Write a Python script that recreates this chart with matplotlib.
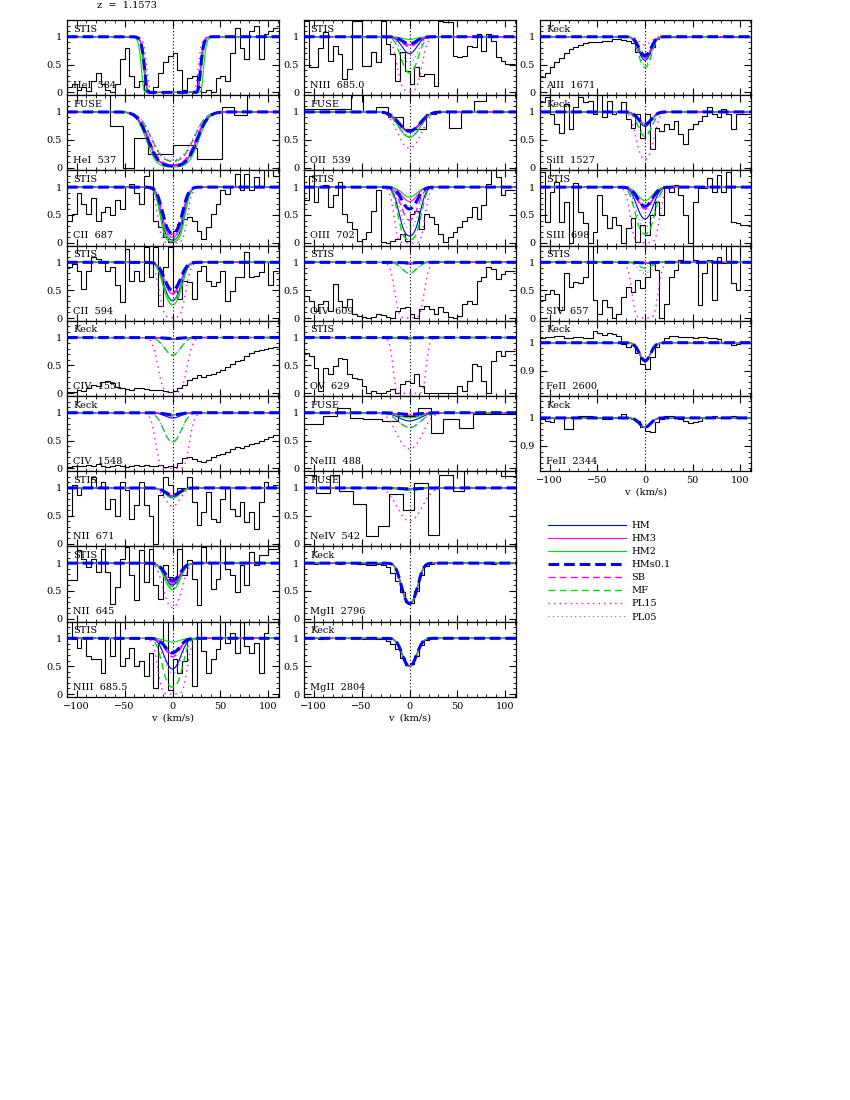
import numpy as np
import matplotlib
matplotlib.use('Agg')
import matplotlib.pyplot as plt
from matplotlib.ticker import MultipleLocator, FuncFormatter

# ---- observed spectra (normalised flux per velocity bin, -110..110 km/s) ----
hei584 = [0.10, 0.15, 0.05, 0.10, 0.02, 0.20, 0.35, 0.15, 0.05, 0.00, 0.15, 0.60, 0.80, 0.30, 0.10,
          0.20, 0.05, 0.00, 0.10, 0.35, 0.55, 0.65, 0.70, 0.40, 0.05, 0.25, 0.30, 0.10, 0.00, 0.05,
          0.00, 0.25, 0.30, 0.20, 0.70, 1.15, 0.80, 0.60, 1.10, 1.20, 0.60, 1.05, 1.10, 1.15]
hei537_edges = [-110, -65, -52, -40, -26, 0, 23, 26, 52, 64, 78, 111]
hei537 = [1.40, 0.75, 0.00, 0.54, 0.24, 0.40, 0.36, 0.16, 1.09, 0.95, 1.40]
cii687 = [0.40, 0.52, 0.90, 0.70, 0.52, 0.80, 0.40, 0.55, 0.64, 0.50, 0.76, 0.60, 1.00, 1.06, 0.90,
          0.70, 1.20, 1.35, 0.40, 0.28, 0.10, 0.01, 0.22, 0.34, 0.43, 0.46, 0.40, 0.22, 0.07, 0.28,
          0.52, 0.70, 0.94, 0.88, 1.00, 1.24, 0.94, 1.24, 0.94, 1.18, 1.00, 1.35, 1.35, 1.20]
cii594 = [0.91, 0.97, 0.85, 0.52, 0.85, 1.09, 1.06, 1.00, 0.85, 0.91, 0.60, 0.28, 1.24, 0.67, 0.85,
          0.67, 1.27, 0.73, 1.27, 0.22, 0.91, 1.27, 0.49, 0.34, 0.67, 0.64, 0.34, 0.85, 0.94, 0.67,
          0.58, 0.64, 0.85, 0.31, 0.49, 0.73, 0.73, 1.18, 0.73, 0.76, 0.82, 1.00, 0.60, 0.85]
civ1551 = [0.02, 0.03, 0.05, 0.04, 0.10, 0.15, 0.13, 0.20, 0.22, 0.18, 0.12, 0.10, 0.08, 0.06, 0.09,
           0.10, 0.07, 0.05, 0.06, 0.05, 0.04, 0.02, 0.04, 0.10, 0.15, 0.24, 0.28, 0.32, 0.30, 0.33,
           0.35, 0.38, 0.42, 0.47, 0.52, 0.57, 0.60, 0.66, 0.72, 0.75, 0.78, 0.80, 0.82, 0.83]
civ1548 = [0.03, 0.05, 0.04, 0.05, 0.06, 0.04, 0.08, 0.05, 0.02, 0.04, 0.07, 0.04, 0.03, 0.05, 0.06,
           0.04, 0.07, 0.05, 0.04, 0.06, 0.03, 0.05, 0.02, 0.10, 0.18, 0.20, 0.17, 0.14, 0.12, 0.15,
           0.20, 0.24, 0.26, 0.30, 0.35, 0.38, 0.36, 0.40, 0.44, 0.46, 0.50, 0.52, 0.56, 0.60]
nii671 = [0.50, 1.05, 0.87, 1.00, 1.00, 1.20, 1.00, 1.10, 0.63, 0.80, 0.50, 1.10, 0.96, 0.45, 0.69,
          1.10, 0.69, 0.50, 0.00, 0.87, 1.20, 1.05, 0.87, 1.00, 1.00, 1.20, 0.75, 0.33, 0.57, 0.93,
          0.45, 0.39, 0.80, 1.00, 0.63, 0.50, 0.75, 0.39, 0.57, 0.27, 0.75, 1.10, 1.00, 1.05]
nii645 = [0.69, 0.69, 1.23, 1.08, 0.93, 1.08, 0.84, 1.26, 0.84, 0.27, 0.57, 1.08, 1.29, 0.78, 0.33,
          1.23, 0.66, 1.26, 0.60, 0.36, 0.96, 0.75, 0.66, 1.26, 0.78, 1.05, 0.72, 0.24, 1.29, 1.02,
          0.54, 0.72, 1.32, 0.90, 0.78, 0.48, 0.96, 0.60, 1.20, 0.96, 1.14, 1.14, 1.26, 1.26]
niii6855 = [1.30, 0.98, 0.83, 1.00, 0.68, 0.62, 0.62, 0.38, 1.00, 0.68, 1.30, 0.50, 0.65, 0.83, 0.50,
            0.60, 0.32, 0.74, 0.10, 0.92, 1.30, 0.08, 0.62, 0.38, 0.60, 0.98, 0.14, 1.30, 0.77, 0.38,
            0.62, 0.80, 1.30, 0.92, 1.10, 0.74, 1.30, 0.86, 0.74, 0.92, 0.38, 1.10, 1.30, 1.30]
niii6850 = [1.29, 0.45, 0.45, 0.80, 1.08, 0.57, 0.84, 0.69, 0.24, 0.42, 1.29, 1.29, 0.48, 0.48, 0.72,
            0.54, 1.29, 0.87, 0.69, 0.21, 0.72, 0.39, 0.15, 0.45, 0.30, 0.33, 0.33, 0.12, 1.29, 1.26,
            1.26, 0.66, 0.63, 0.66, 0.84, 0.81, 1.05, 0.75, 1.05, 0.93, 0.63, 0.57, 0.51, 0.51]
oii539_edges = [-110, -61, -48, -35, -22, -7, 3, 17, 28, 41, 54, 67, 80, 93, 111]
oii539 = [1.05, 1.40, 1.02, 1.09, 0.90, 0.69, 0.70, 0.96, 1.00, 0.72, 1.02, 1.19, 1.30, 1.32]
oiii702 = [0.76, 1.20, 0.73, 1.00, 1.03, 0.64, 0.85, 1.09, 0.52, 0.37, 0.25, 0.04, 0.07, 0.19, 0.58,
           0.94, 0.01, 0.00, 0.04, 0.07, 0.16, 0.04, 0.52, 0.58, 0.25, 0.52, 0.46, 0.34, 0.16, 0.01,
           0.10, 0.19, 0.28, 0.40, 0.46, 0.64, 0.43, 0.67, 1.06, 1.30, 1.18, 0.85, 0.94, 0.94]
oiv609 = [0.40, 0.31, 0.13, 0.25, 0.31, 0.13, 0.61, 0.31, 0.19, 0.34, 0.07, 0.04, 0.01, 0.00, 0.01,
          0.07, 0.05, 0.01, 0.00, 0.13, 0.18, 0.19, 0.07, 0.00, 0.16, 0.22, 0.16, 0.07, 0.19, 0.10,
          0.01, 0.00, 0.04, 0.25, 0.31, 0.25, 0.67, 0.73, 0.91, 0.88, 0.70, 0.79, 0.85, 0.85]
ov629 = [0.73, 0.67, 0.46, 0.04, 0.46, 0.34, 0.49, 0.64, 0.61, 0.34, 0.28, 0.25, 0.13, 0.00, 0.04,
         0.00, 0.00, 0.04, 0.07, 0.00, 0.16, 0.22, 0.19, 0.34, 0.13, 0.00, 0.00, 0.00, 0.00, 0.00,
         0.00, 0.00, 0.13, 0.04, 0.22, 0.52, 0.49, 0.22, 0.00, 0.58, 0.76, 0.67, 0.76, 0.76]
neiii488_edges = [-110, -90, -76, -62, -48, -29, -12, 9, 22, 35, 52, 66, 111]
neiii488 = [0.79, 0.94, 1.08, 0.91, 0.88, 0.86, 0.94, 1.08, 0.64, 0.88, 0.72, 0.98]
neiv542_edges = [-110, -97, -83, -73, -59, -45, -33, -21, -7, 5, 19, 31, 45, 57, 95, 111]
neiv542 = [1.24, 0.90, 1.24, 0.94, 0.71, 0.13, 0.32, 0.89, 0.61, 1.09, 0.15, 1.24, 0.95, 1.40, 1.22]
mgii2796 = [1.00, 1.00, 0.99, 1.00, 1.00, 1.01, 1.00, 0.99, 1.00, 1.00, 1.00, 0.99, 0.98, 0.97, 0.97,
            0.98, 0.97, 0.93, 0.83, 0.68, 0.48, 0.31, 0.29, 0.50, 0.78, 0.94, 0.99, 1.00, 1.00, 1.00,
            1.01, 1.00, 1.00, 1.00, 1.01, 1.00, 1.00, 1.00, 1.00, 0.99, 1.00, 1.00, 1.00, 1.00]
mgii2804 = [1.00, 1.00, 1.00, 0.99, 1.00, 1.00, 1.00, 1.01, 1.00, 1.00, 1.00, 1.00, 0.99, 1.00, 1.00,
            0.99, 0.99, 0.96, 0.90, 0.80, 0.65, 0.52, 0.53, 0.68, 0.88, 0.97, 1.00, 1.00, 1.01, 1.00,
            1.00, 1.00, 1.00, 1.01, 1.00, 1.00, 1.00, 1.00, 1.00, 1.00, 1.01, 1.00, 1.00, 1.00]
alii1671 = [0.28, 0.35, 0.45, 0.55, 0.62, 0.70, 0.78, 0.82, 0.86, 0.88, 0.90, 0.90, 0.91, 0.92, 0.93,
            0.95, 0.95, 0.94, 0.93, 0.88, 0.72, 0.67, 0.70, 0.82, 0.95, 0.99, 1.00, 1.00, 0.99, 1.01,
            1.00, 1.02, 1.01, 1.00, 1.01, 1.02, 1.01, 1.00, 1.01, 0.99, 1.00, 1.00, 1.01, 0.99]
sii1527 = [1.17, 1.26, 0.96, 0.78, 0.63, 1.14, 0.69, 1.08, 1.26, 1.17, 1.19, 0.96, 1.32, 0.90, 1.20,
           0.96, 1.02, 1.17, 0.87, 0.72, 0.96, 0.54, 0.96, 0.33, 0.72, 0.66, 0.78, 0.69, 0.84, 0.60,
           0.42, 0.69, 0.78, 0.84, 0.93, 1.08, 0.96, 0.90, 1.05, 0.96, 0.69, 0.96, 0.96, 0.96]
siii698 = [1.28, 0.38, 0.92, 1.10, 0.38, 0.74, 0.00, 1.07, 0.56, 0.35, 0.00, 0.20, 0.86, 0.50, 0.26,
           0.47, 0.32, 0.00, 0.26, 0.44, 0.02, 0.32, 0.14, 0.50, 0.74, 0.50, 0.98, 0.92, 1.04, 0.86,
           0.50, 0.00, 0.74, 0.98, 0.98, 1.16, 0.92, 1.22, 0.92, 1.28, 0.38, 0.35, 0.32, 0.32]
siv657 = [0.32, 0.44, 0.50, 0.44, 0.14, 0.80, 0.56, 0.65, 0.62, 0.74, 1.30, 0.32, 0.08, 0.32, 0.20,
          0.00, 0.08, 0.38, 0.56, 0.47, 0.68, 0.53, 0.74, 0.98, 0.86, 0.00, 0.26, 0.74, 0.86, 1.04,
          1.30, 1.30, 1.04, 0.23, 0.80, 1.04, 0.32, 1.10, 0.98, 1.30, 0.62, 0.50, 1.30, 1.30]
feii2600 = [1.015, 1.02, 1.02, 1.024, 1.024, 1.015, 1.015, 1.02, 1.02, 1.015, 1.015, 1.04, 1.035,
            1.027, 1.033, 1.03, 1.025, 0.995, 0.986, 0.99, 0.962, 0.925, 0.908, 0.95, 0.986, 1.0,
            1.015, 1.024, 1.024, 1.02, 1.022, 1.02, 1.018, 1.02, 1.02, 1.016, 1.015, 1.012, 1.0,
            0.998, 0.99, 0.995, 1.0, 1.0]
feii2344 = [0.996, 0.99, 0.985, 0.998, 0.998, 0.96, 0.96, 1.0, 1.008, 1.008, 1.005, 1.0, 1.0, 0.996,
            0.996, 1.0, 1.002, 1.014, 1.0, 0.996, 0.99, 0.967, 0.955, 0.95, 0.985, 0.996, 1.008,
            1.005, 1.0, 0.995, 0.99, 0.98, 0.985, 0.99, 1.0, 1.004, 1.008, 1.0, 1.0, 1.004, 1.008,
            1.0, 1.0, 1.0]

# ---- model line-centre optical depths: HM, HM3, HM2, HMs0.1, SB, MF, PL15, PL05 ----
model_names = ['HM', 'HM3', 'HM2', 'HMs0.1', 'SB', 'MF', 'PL15', 'PL05']
tau_hei584 = [1000, 1000, 5000, 1000, 800, 1500, 300, 600]
tau_hei537 = [3.5, 3.5, 4.5, 3.5, 3.0, 2.2, 2.2, 2.0]
tau_cii687 = [3.0, 2.3, 3.9, 1.8, 1.9, 3.0, 8.0, 2.5]
tau_cii594 = [1.15, 0.85, 1.45, 0.7, 0.8, 1.2, 5.0, 1.1]
tau_civ1551 = [0.03, 0.02, 0.02, 0.02, 0.03, 0.38, 5.0, 0.38]
tau_civ1548 = [0.1, 0.04, 0.04, 0.04, 0.06, 0.75, 10.0, 0.75]
tau_nii671 = [0.18, 0.15, 0.2, 0.14, 0.16, 0.2, 0.4, 0.2]
tau_nii645 = [0.5, 0.45, 0.65, 0.37, 0.42, 0.55, 1.6, 0.6]
tau_niii6855 = [0.8, 0.33, 0.07, 0.3, 0.4, 2.1, 8.0, 1.0]
tau_niii6850 = [0.36, 0.16, 0.05, 0.14, 0.2, 1.05, 4.0, 0.65]
tau_oii539 = [0.42, 0.46, 0.6, 0.42, 0.45, 0.6, 1.05, 0.55]
tau_oiii702 = [2.1, 0.3, 0.2, 0.5, 0.9, 3.0, 10.0, 1.4]
tau_oiv609 = [0.03, 0.01, 0.01, 0.01, 0.02, 0.22, 8.0, 0.22]
tau_ov629 = [0.01, 0.005, 0.005, 0.005, 0.01, 0.03, 30.0, 0.02]
tau_neiii488 = [0.16, 0.05, 0.1, 0.03, 0.05, 0.31, 1.05, 0.3]
tau_neiv542 = [0.02, 0.01, 0.01, 0.02, 0.02, 0.04, 0.9, 0.03]
tau_mgii2796 = [1.32, 1.3, 1.3, 1.3, 1.3, 1.3, 1.3, 1.3]
tau_mgii2804 = [0.7, 0.7, 0.7, 0.7, 0.7, 0.7, 0.7, 0.7]
tau_alii1671 = [0.55, 0.48, 0.45, 0.42, 0.45, 0.8, 0.16, 0.7]
tau_sii1527 = [0.3, 0.25, 0.28, 0.25, 0.25, 0.58, 1.9, 0.5]
tau_siii698 = [0.85, 0.45, 0.28, 0.42, 0.5, 1.85, 8.0, 1.3]
tau_siv657 = [0.02, 0.01, 0.01, 0.01, 0.02, 0.11, 8.0, 0.22]
tau_feii2600 = [0.067, 0.067, 0.067, 0.067, 0.067, 0.067, 0.067, 0.067]
tau_feii2344 = [0.034, 0.034, 0.034, 0.034, 0.034, 0.034, 0.034, 0.034]

# (instrument, label, flux, bin edges or None, tau list, b in km/s, FeII-style axis)
columns = [
    [('STIS', 'HeI  584', hei584, None, tau_hei584, 11, False),
     ('FUSE', 'HeI  537', hei537, hei537_edges, tau_hei537, 20, False),
     ('STIS', 'CII  687', cii687, None, tau_cii687, 10, False),
     ('STIS', 'CII  594', cii594, None, tau_cii594, 10, False),
     ('Keck', 'CIV  1551', civ1551, None, tau_civ1551, 11, False),
     ('Keck', 'CIV  1548', civ1548, None, tau_civ1548, 11, False),
     ('STIS', 'NII  671', nii671, None, tau_nii671, 10, False),
     ('STIS', 'NII  645', nii645, None, tau_nii645, 10, False),
     ('STIS', 'NIII  685.5', niii6855, None, tau_niii6855, 10, False)],
    [('STIS', 'NIII  685.0', niii6850, None, tau_niii6850, 10, False),
     ('FUSE', 'OII  539', oii539, oii539_edges, tau_oii539, 14, False),
     ('STIS', 'OIII  702', oiii702, None, tau_oiii702, 10, False),
     ('STIS', 'OIV  609', oiv609, None, tau_oiv609, 10, False),
     ('STIS', 'OV  629', ov629, None, tau_ov629, 9, False),
     ('FUSE', 'NeIII  488', neiii488, neiii488_edges, tau_neiii488, 15, False),
     ('FUSE', 'NeIV  542', neiv542, neiv542_edges, tau_neiv542, 15, False),
     ('Keck', 'MgII  2796', mgii2796, None, tau_mgii2796, 9, False),
     ('Keck', 'MgII  2804', mgii2804, None, tau_mgii2804, 9, False)],
    [('Keck', 'AlII  1671', alii1671, None, tau_alii1671, 8, False),
     ('Keck', 'SiII  1527', sii1527, None, tau_sii1527, 9, False),
     ('STIS', 'SIII  698', siii698, None, tau_siii698, 10, False),
     ('STIS', 'SIV  657', siv657, None, tau_siv657, 9, False),
     ('Keck', 'FeII  2600', feii2600, None, tau_feii2600, 8, True),
     ('Keck', 'FeII  2344', feii2344, None, tau_feii2344, 8, True)],
]

styles = [
    dict(color='#0000ff', lw=0.8, ls='-'),
    dict(color='#ff00ff', lw=0.8, ls='-'),
    dict(color='#00dd00', lw=0.8, ls='-'),
    dict(color='#0000ff', lw=2.2, ls=(0, (3.5, 1.6)), zorder=5),
    dict(color='#ff00ff', lw=1.0, ls=(0, (5, 3))),
    dict(color='#00dd00', lw=1.0, ls=(0, (5, 3))),
    dict(color='#ff00ff', lw=1.0, ls=(0, (1, 3))),
    dict(color='#5070ff', lw=0.8, ls=(0, (1, 3))),
]


def profile(v, tau0, b):
    return np.exp(-tau0 * np.exp(-(v / b) ** 2))


plt.rcParams['font.family'] = ['DejaVu Serif']
plt.rcParams['font.size'] = 7

fig = plt.figure(figsize=(8.5, 11), dpi=100)
W, H = 850.0, 1100.0
col_left = [67, 304, 540]
col_width = [212, 212, 211]
top = 20
ph = 75.2
vgrid = np.linspace(-110, 111, 885)
yfmt = FuncFormatter(lambda y, _: '%g' % y)
handles = None

for c, panels in enumerate(columns):
    for r, (inst, label, flux, edges, taus, b, fe) in enumerate(panels):
        ax = fig.add_axes([col_left[c] / W, 1 - (top + (r + 1) * ph) / H,
                           col_width[c] / W, ph / H])
        if edges is None:
            edges = np.linspace(-110, 110, len(flux) + 1)
        ax.stairs(flux, edges, baseline=None, color='k', lw=0.8, zorder=2)
        lines = []
        for name, tau0, st in zip(model_names, taus, styles):
            ln, = ax.plot(vgrid, profile(vgrid, tau0, b), label=name, **st)
            lines.append(ln)
        if handles is None:
            handles = lines
        ax.axvline(0, color='k', ls=(0, (1, 2)), lw=0.8, zorder=1)
        ax.set_xlim(-110, 111)
        if fe:
            ax.set_ylim(0.81, 1.078)
            ax.yaxis.set_major_locator(MultipleLocator(0.1))
            ax.yaxis.set_minor_locator(MultipleLocator(0.02))
        else:
            ax.set_ylim(-0.05, 1.3)
            ax.yaxis.set_major_locator(MultipleLocator(0.5))
            ax.yaxis.set_minor_locator(MultipleLocator(0.1))
        ax.yaxis.set_major_formatter(yfmt)
        ax.xaxis.set_major_locator(MultipleLocator(50))
        ax.xaxis.set_minor_locator(MultipleLocator(10))
        ax.tick_params(which='both', direction='in', top=True, right=True, labelsize=7)
        ax.tick_params(which='major', length=5, width=0.8)
        ax.tick_params(which='minor', length=2.5, width=0.6)
        for s in ax.spines.values():
            s.set_linewidth(0.9)
        if r < len(panels) - 1:
            ax.tick_params(labelbottom=False)
        else:
            ax.set_xlabel('v  (km/s)', fontsize=7, labelpad=2)
        ax.text(0.03, 0.88, inst, transform=ax.transAxes, fontsize=7, va='center', zorder=6)
        ax.text(0.03, 0.13, label, transform=ax.transAxes, fontsize=7, va='center', zorder=6)

fig.text(97 / W, 1 - 6 / H, 'z  =  1.1573', fontsize=7, va='center', ha='left')

fig.legend(handles, model_names, loc='upper left', bbox_to_anchor=(548 / W, 1 - 521 / H),
           frameon=False, fontsize=7, handlelength=8.0, handletextpad=0.6,
           labelspacing=0.42, borderaxespad=0, borderpad=0)

fig.savefig('out.png', dpi=100)
